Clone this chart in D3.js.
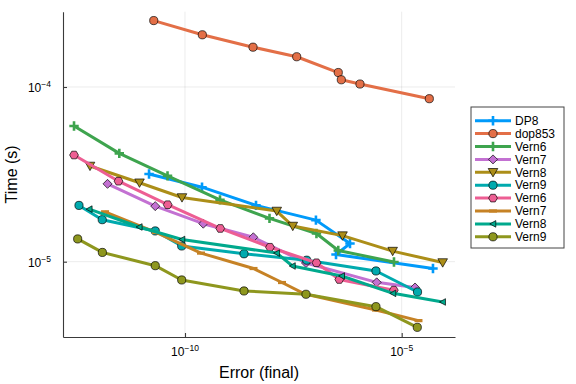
<!DOCTYPE html>
<html><head><meta charset="utf-8">
<script src="https://cdn.jsdelivr.net/npm/d3@7"></script>
<style>
body{margin:0;background:#fff}
svg{display:block}
text{font-family:"Liberation Sans",Arial,Helvetica,sans-serif;fill:#000}
</style>
</head><body><svg id="c" width="576" height="384"></svg>
<script>
// ---------- data ----------
const seriesNames = ["DP8","dop853","Vern6","Vern7","Vern8","Vern9","Vern6","Vern7","Vern8","Vern9"];

const errDP8   = [1.48e-11, 2.47e-10, 4.35e-9, 1.05e-7, 6.41e-7, 3.05e-7, 5.27e-5];
const timeDP8  = [3.18e-5, 2.67e-5, 2.10e-5, 1.73e-5, 1.27e-5, 1.10e-5, 9.14e-6];

const errDop853  = [1.90e-11, 2.51e-10, 3.71e-9, 3.78e-8, 3.44e-7, 4.04e-7, 1.09e-6, 4.34e-5];
const timeDop853 = [2.40e-4, 1.99e-4, 1.69e-4, 1.49e-4, 1.21e-4, 1.10e-4, 1.04e-4, 8.57e-5];

const errVern6a  = [2.75e-13, 3.05e-12, 3.95e-11, 6.42e-10, 8.91e-9, 1.08e-7, 3.44e-7, 6.64e-6];
const timeVern6a = [5.98e-5, 4.17e-5, 3.10e-5, 2.26e-5, 1.77e-5, 1.45e-5, 1.16e-5, 9.96e-6];

const errVern7a  = [1.63e-12, 2.06e-11, 2.64e-10, 3.77e-9, 6.19e-8, 2.65e-6, 2.03e-5];
const timeVern7a = [2.79e-5, 2.08e-5, 1.65e-5, 1.38e-5, 9.83e-6, 7.62e-6, 7.12e-6];

const errVern8a  = [6.43e-13, 8.92e-12, 8.53e-11, 1.31e-8, 3.07e-8, 4.31e-7, 6.19e-6, 8.83e-5];
const timeVern8a = [3.53e-5, 2.83e-5, 2.33e-5, 1.95e-5, 1.60e-5, 1.41e-5, 1.15e-5, 9.89e-6];

const errVern9a  = [3.58e-13, 1.23e-12, 2.06e-11, 8.39e-11, 2.30e-9, 6.43e-8, 2.55e-6, 2.32e-5];
const timeVern9a = [2.10e-5, 1.74e-5, 1.50e-5, 1.23e-5, 1.11e-5, 1.02e-5, 8.85e-6, 6.71e-6];

const errVern6b  = [2.75e-13, 2.92e-12, 3.99e-11, 6.52e-10, 9.14e-9, 1.08e-7, 3.63e-7, 6.58e-6];
const timeVern6b = [4.08e-5, 2.89e-5, 2.12e-5, 1.55e-5, 1.21e-5, 9.86e-6, 7.91e-6, 6.87e-6];

const errVern7b  = [1.43e-12, 2.14e-11, 2.34e-10, 3.81e-9, 1.73e-8, 5.87e-8, 2.55e-6, 2.44e-5];
const timeVern7b = [1.93e-5, 1.47e-5, 1.12e-5, 9.14e-6, 7.60e-6, 6.53e-6, 5.29e-6, 4.60e-6];

const errVern8b  = [6.19e-13, 8.82e-12, 8.53e-11, 1.31e-8, 3.02e-8, 4.13e-7, 6.30e-6, 8.83e-5];
const timeVern8b = [2.00e-5, 1.58e-5, 1.34e-5, 1.12e-5, 9.45e-6, 8.28e-6, 6.59e-6, 5.88e-6];

const errVern9b  = [3.34e-13, 1.24e-12, 2.06e-11, 8.39e-11, 2.30e-9, 6.19e-8, 2.55e-6, 2.29e-5];
const timeVern9b = [1.35e-5, 1.13e-5, 9.49e-6, 7.86e-6, 6.80e-6, 6.51e-6, 5.53e-6, 4.21e-6];

const xTicks = [1e-10, 1e-5];
const xTickExp = ["\u221210", "\u22125"];
const yTicks = [1e-5, 1e-4];
const yTickExp = ["\u22125", "\u22124"];
const xLabel = "Error (final)";
const yLabel = "Time (s)";

// ---------- style ----------
const colors  = ["#009AFA","#E36F47","#3EA44E","#C371D2","#AC8E18","#00AAAE","#ED5E93","#C68225","#00A98D","#8E971E"];
const markers = ["cross","circle","cross","diamond","dtriangle","circle","hexagon","hline","ltriangle","circle"];

const errs  = [errDP8, errDop853, errVern6a, errVern7a, errVern8a, errVern9a, errVern6b, errVern7b, errVern8b, errVern9b];
const times = [timeDP8, timeDop853, timeVern6a, timeVern7a, timeVern8a, timeVern9a, timeVern6b, timeVern7b, timeVern8b, timeVern9b];
const series = seriesNames.map((n,i)=>({name:n, color:colors[i], marker:markers[i],
  pts: errs[i].map((e,j)=>({x:e, y:times[i][j]}))}));

const L=63, R=455, T=11.7, B=337;
const svg = d3.select("#c");
const x = d3.scaleLog().domain([Math.pow(10,-12.815), Math.pow(10,-3.77)]).range([L,R]);
const y = d3.scaleLog().domain([Math.pow(10,-5.431), Math.pow(10,-3.569)]).range([B,T]);

// grid
const g = svg.append("g");
g.selectAll(".gx").data(xTicks).join("line")
  .attr("x1",d=>x(d)).attr("x2",d=>x(d)).attr("y1",T).attr("y2",B)
  .attr("stroke","#000").attr("stroke-opacity",0.1).attr("stroke-width",0.8);
g.selectAll(".gy").data(yTicks).join("line")
  .attr("y1",d=>y(d)).attr("y2",d=>y(d)).attr("x1",L).attr("x2",R)
  .attr("stroke","#000").attr("stroke-opacity",0.1).attr("stroke-width",0.8);

// axes
const ax = svg.append("g").attr("transform",`translate(0,${B})`)
  .call(d3.axisBottom(x).tickValues(xTicks).tickSizeInner(-4).tickSizeOuter(0).tickFormat(""));
const ay = svg.append("g").attr("transform",`translate(${L},0)`)
  .call(d3.axisLeft(y).tickValues(yTicks).tickSizeInner(-4).tickSizeOuter(0).tickFormat(""));
[ax,ay].forEach(a=>{
  a.select(".domain").attr("stroke","#3a3a3a").attr("stroke-width",1.1);
  a.selectAll(".tick line").attr("stroke","#3a3a3a").attr("stroke-width",1.1);
});
ax.selectAll(".tick text").remove();
ay.selectAll(".tick text").remove();

// tick labels with superscripts
xTicks.forEach((v,i)=>{
  const t = svg.append("text").attr("x",x(v)).attr("y",356).attr("text-anchor","middle").style("font-size","12px");
  t.append("tspan").text("10");
  t.append("tspan").attr("dy",-5).style("font-size","8.5px").text(xTickExp[i]);
});
yTicks.forEach((v,i)=>{
  const t = svg.append("text").attr("x",51).attr("y",y(v)+5.5).attr("text-anchor","end").style("font-size","12px");
  t.append("tspan").text("10");
  t.append("tspan").attr("dy",-5).style("font-size","8.5px").text(yTickExp[i]);
});

// axis labels
svg.append("text").attr("x",(L+R)/2).attr("y",378).attr("text-anchor","middle").style("font-size","16px").text(xLabel);
svg.append("text").attr("transform",`translate(17,${(T+B)/2}) rotate(-90)`).attr("text-anchor","middle").style("font-size","16px").text(yLabel);

// marker drawing
function drawMarker(sel, type, color, cx, cy){
  const st = (e)=>e.attr("fill",color).attr("stroke","#000").attr("stroke-width",0.8).attr("stroke-opacity",0.85);
  if(type==="circle"){
    st(sel.append("circle").attr("cx",cx).attr("cy",cy).attr("r",4.1));
  } else if(type==="cross"){
    sel.append("path").attr("d",`M${cx-4.7},${cy}H${cx+4.7}M${cx},${cy-4.7}V${cy+4.7}`)
      .attr("stroke",color).attr("stroke-width",2.6).attr("fill","none");
  } else if(type==="diamond"){
    const s=4.5;
    st(sel.append("path").attr("d",`M${cx},${cy-s}L${cx+s},${cy}L${cx},${cy+s}L${cx-s},${cy}Z`));
  } else if(type==="dtriangle"){
    st(sel.append("path").attr("d",`M${cx-4.8},${cy-3.8}L${cx+4.8},${cy-3.8}L${cx},${cy+4.6}Z`));
  } else if(type==="hexagon"){
    const r=4.4; const p=d3.range(6).map(k=>{const a=Math.PI/3*k;return [cx+r*Math.cos(a), cy+r*Math.sin(a)];});
    st(sel.append("path").attr("d","M"+p.map(q=>q.join(",")).join("L")+"Z"));
  } else if(type==="hline"){
    sel.append("path").attr("d",`M${cx-4},${cy}H${cx+4}`).attr("stroke",color).attr("stroke-width",3.2);
  } else if(type==="ltriangle"){
    st(sel.append("path").attr("d",`M${cx-3.2},${cy}L${cx+2.8},${cy-3.3}L${cx+2.8},${cy+3.3}Z`));
  }
}

// series
const line = d3.line().x(d=>x(d.x)).y(d=>y(d.y));
series.forEach(s=>{
  const sg = svg.append("g");
  sg.append("path").datum(s.pts).attr("d",line).attr("fill","none")
    .attr("stroke",s.color).attr("stroke-width",3).attr("stroke-linejoin","round");
  s.pts.forEach(p=>drawMarker(sg, s.marker, s.color, x(p.x), y(p.y)));
});

// legend
const lg = svg.append("g");
lg.append("rect").attr("x",471).attr("y",107).attr("width",93).attr("height",141)
  .attr("fill","#fff").attr("stroke","#444").attr("stroke-width",1);
series.forEach((s,i)=>{
  const yy = 120.7 + 12.9*i;
  lg.append("line").attr("x1",475).attr("x2",511).attr("y1",yy).attr("y2",yy)
    .attr("stroke",s.color).attr("stroke-width",3);
  drawMarker(lg, s.marker, s.color, 493, yy);
  lg.append("text").attr("x",515).attr("y",yy+4.2).style("font-size","12px").text(s.name);
});
</script>
</body></html>
